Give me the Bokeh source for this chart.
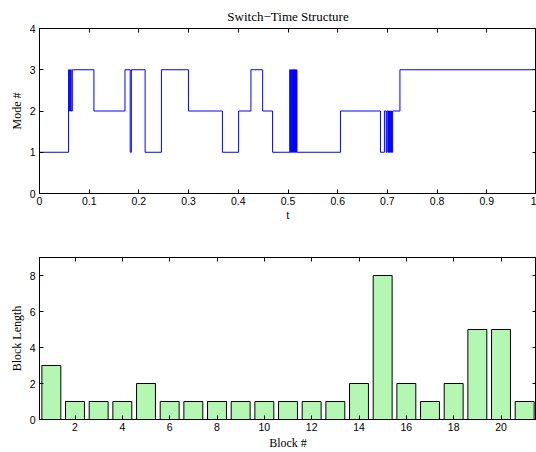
from bokeh.plotting import figure
from bokeh.layouts import column
from bokeh.models import LinearAxis, FixedTicker, NumeralTickFormatter, Range1d
from bokeh.embed import file_html
from bokeh.resources import INLINE

# ---- data: switch-time structure (mode after each switch time) ----
switch_times = [0.0, 0.0585, 0.0605, 0.0625, 0.0638, 0.066, 0.1095, 0.172, 0.1825, 0.1848,
                0.2125, 0.2453, 0.2997, 0.368, 0.4006, 0.4254, 0.449, 0.469,
                0.5035, 0.5045, 0.5055, 0.5065, 0.5075, 0.5085, 0.5095, 0.5103,
                0.511, 0.512, 0.513, 0.514, 0.515, 0.516, 0.517, 0.518,
                0.6055, 0.686, 0.694, 0.6976, 0.699, 0.701, 0.702, 0.703, 0.704,
                0.705, 0.706, 0.707, 0.708, 0.709, 0.7105, 0.7252, 1.0]
modes = [1, 3, 2, 3, 2, 3, 2, 3, 1, 3,
         1, 3, 2, 1, 2, 3, 2, 1,
         3, 1, 3, 1, 3, 1, 3, 1,
         3, 1, 3, 1, 3, 1, 3, 1,
         2, 1, 2, 1, 2, 1, 2, 1, 2,
         1, 2, 1, 2, 1, 2, 3, 3]

# ---- data: block lengths ----
blocks = list(range(1, 22))
block_lengths = [3, 1, 1, 1, 2, 1, 1, 1, 1, 1, 1, 1, 1, 2, 8, 2, 1, 2, 5, 5, 1]

top_xticks = [0, 0.1, 0.2, 0.3, 0.4, 0.5, 0.6, 0.7, 0.8, 0.9, 1]
top_yticks = [0, 1, 2, 3, 4]
bot_xticks = [2, 4, 6, 8, 10, 12, 14, 16, 18, 20]
bot_yticks = [0, 2, 4, 6, 8]

SANS = "Liberation Sans"
SERIF = "Liberation Serif"
TICK_FS = "10.5px"
LAB_FS = "12px"


def style_axis(ax, ticks, show_labels=True):
    ax.ticker = FixedTicker(ticks=ticks)
    ax.major_tick_in = 4
    ax.major_tick_out = 0
    ax.minor_tick_line_color = None
    ax.axis_line_color = "black"
    ax.major_tick_line_color = "black"
    ax.major_label_text_font = SANS
    ax.axis_label_text_font = SERIF
    ax.axis_label_text_font_size = LAB_FS
    ax.axis_label_text_font_style = "normal"
    ax.axis_label_text_color = "black"
    if show_labels:
        ax.major_label_text_font_size = TICK_FS
        ax.major_label_text_color = "black"
    else:
        ax.major_label_text_font_size = "0px"
        ax.major_label_text_color = None
        ax.major_label_standoff = 0


# ---------------- top figure ----------------
p1 = figure(width=536, height=232, x_range=Range1d(0, 1), y_range=Range1d(0, 4),
            output_backend="svg", toolbar_location=None,
            min_border_left=39, min_border_right=0, min_border_top=28, min_border_bottom=39,
            x_axis_label="t", y_axis_label="Mode #")
p1.title.text = "Switch\u2212Time Structure"
p1.title.text_font = SERIF
p1.title.text_font_size = "13px"
p1.title.text_font_style = "normal"
p1.title.text_color = "black"
p1.title.align = "center"
p1.title.standoff = 9
p1.xgrid.grid_line_color = None
p1.ygrid.grid_line_color = None
p1.outline_line_color = "black"
p1.outline_line_alpha = 1

style_axis(p1.xaxis[0], top_xticks)
style_axis(p1.yaxis[0], top_yticks)
p1.xaxis[0].formatter = NumeralTickFormatter(format="0.[0]")
p1.xaxis[0].major_label_standoff = 3
p1.xaxis[0].axis_label_standoff = 0
p1.yaxis[0].major_label_standoff = 4
p1.yaxis[0].axis_label_standoff = 3

ax_top1 = LinearAxis()
style_axis(ax_top1, top_xticks, show_labels=False)
p1.add_layout(ax_top1, "above")
ax_right1 = LinearAxis()
style_axis(ax_right1, top_yticks, show_labels=False)
p1.add_layout(ax_right1, "right")

p1.step(x=switch_times, y=modes, mode="after", line_color="#0000ff", line_width=1)

# ---------------- bottom figure ----------------
p2 = figure(width=536, height=220, x_range=Range1d(0.5, 21.5), y_range=Range1d(0, 9),
            output_backend="svg", toolbar_location=None,
            min_border_left=39, min_border_right=0, min_border_top=25, min_border_bottom=31,
            x_axis_label="Block #", y_axis_label="Block Length")
p2.xgrid.grid_line_color = None
p2.ygrid.grid_line_color = None
p2.outline_line_color = "black"

style_axis(p2.xaxis[0], bot_xticks)
style_axis(p2.yaxis[0], bot_yticks)
p2.xaxis[0].major_label_standoff = 3
p2.xaxis[0].axis_label_standoff = 2
p2.yaxis[0].major_label_standoff = 4
p2.yaxis[0].axis_label_standoff = 3

ax_top2 = LinearAxis()
style_axis(ax_top2, bot_xticks, show_labels=False)
p2.add_layout(ax_top2, "above")
ax_right2 = LinearAxis()
style_axis(ax_right2, bot_yticks, show_labels=False)
p2.add_layout(ax_right2, "right")

p2.vbar(x=blocks, top=block_lengths, width=0.8, fill_color="#b3f7b3",
        line_color="black", line_width=1)

layout = column(p1, p2, spacing=0)

open("out.html", "w").write(file_html(layout, INLINE))
